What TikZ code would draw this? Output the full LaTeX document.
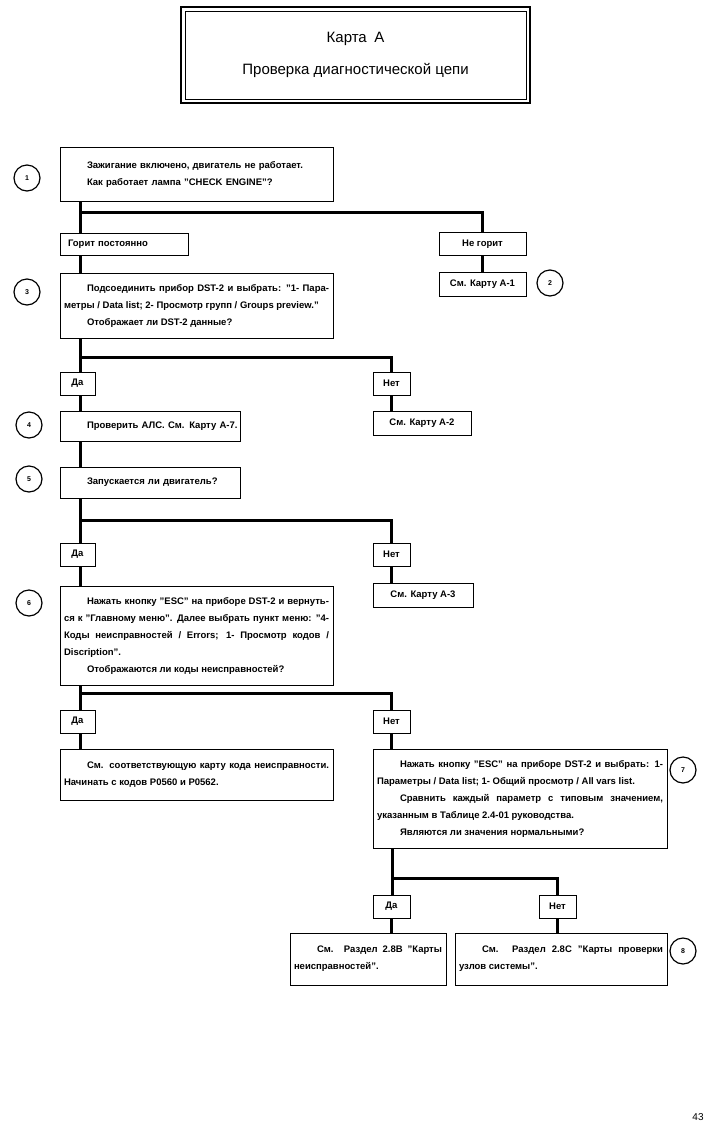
\documentclass[tikz,border=0pt]{standalone}
\usepackage{fontspec}
\setmainfont{Liberation Sans}
\usetikzlibrary{calc}
\newcommand\txtf{\fontsize{9.5}{17}\selectfont\bfseries\hyphenpenalty=10000\tolerance=10000}
\newcommand\ind{\hspace*{23pt}}
\begin{document}
\begin{tikzpicture}[x=1pt,y=-1pt,
  every node/.style={inner sep=0pt, outer sep=0pt},
  box/.style={draw, line width=0.9pt, inner xsep=4pt, inner ysep=0pt, align=justify, font=\txtf},
  lbl/.style={draw, line width=0.9pt, inner sep=0pt, align=center, font=\txtf, minimum height=23pt},
  num/.style={draw, circle, line width=1.2pt, minimum size=26pt, inner sep=0pt, font=\fontsize{7}{8}\selectfont\bfseries},
  conn/.style={line width=3pt}]
\fill[white] (0,0) rectangle (711,1128);
\useasboundingbox (0,0) rectangle (711,1128);

% title
\node[draw, line width=1.6pt, minimum width=349pt, minimum height=96pt, align=center,
      font=\fontsize{15}{32}\selectfont] (t) at (355.5,55) {Карта\enspace А\\Проверка диагностической цепи};
\draw[line width=0.6pt] ($(t.south west)+(4,-4)$) rectangle ($(t.north east)+(-4,4)$);

% step 1
\node[box, align=left, text width=265pt, minimum height=54pt] (b1) at (196.5,174)
  {\ind Зажигание включено, двигатель не работает.\par\ind Как работает лампа "CHECK ENGINE"?};
\node[num] (c1) at (27,178) {1};
\node[lbl, align=left, text width=112pt, inner xsep=8pt, minimum height=22pt] (gorit) at (124,244) {Горит постоянно};
\node[lbl, minimum width=87pt] (negorit) at (482.5,244) {Не горит};
\node[lbl, minimum width=87pt, minimum height=24pt] (a1) at (482.5,284) {См. Карту А-1};
\node[num] (c2) at (550,283) {2};

% step 3
\node[box, text width=265pt, minimum height=65pt] (b3) at (196.5,305.5)
  {\ind Подсоединить прибор DST-2 и выбрать: "1- Пара-\linebreak метры / Data list; 2- Просмотр групп / Groups preview."\par
   \ind Отображает ли DST-2 данные?};
\node[num] (c3) at (27,292) {3};
\node[lbl, minimum width=35pt] (da1) at (77.5,383.5) {Да};
\node[lbl, minimum width=37pt] (net1) at (391.5,383.5) {Нет};
\node[lbl, minimum width=98pt, minimum height=24pt] (a2) at (422,423) {См. Карту А-2};

% step 4, 5
\node[box, align=left, text width=172pt, minimum height=30pt] (b4) at (150,426) {\ind\mbox{Проверить АЛС. См. Карту А-7.}};
\node[num] (c4) at (29,425) {4};
\node[box, align=left, text width=172pt, minimum height=31pt] (b5) at (150,482.5) {\ind Запускается ли двигатель?};
\node[num] (c5) at (29,479) {5};
\node[lbl, minimum width=35pt] (da2) at (77.5,554.5) {Да};
\node[lbl, minimum width=37pt] (net2) at (391.5,554.5) {Нет};
\node[lbl, minimum width=100pt, minimum height=24pt] (a3) at (423,595) {См. Карту А-3};

% step 6
\node[box, text width=265pt, minimum height=99pt] (b6) at (196.5,636)
  {\ind Нажать кнопку "ESC" на приборе DST-2 и вернуть-\linebreak ся к "Главному меню". Далее выбрать пункт меню: "4-\linebreak Коды неисправностей / Errors; 1- Просмотр кодов /\linebreak Discription".\par
   \ind Отображаются ли коды неисправностей?};
\node[num] (c6) at (29,603) {6};
\node[lbl, minimum width=35pt] (da3) at (77.5,721.5) {Да};
\node[lbl, minimum width=37pt] (net3) at (391.5,721.5) {Нет};
\node[box, text width=265pt, minimum height=51pt] (b6a) at (196.5,774.5)
  {\ind См. соответствующую карту кода неисправности.\linebreak Начинать с кодов P0560 и P0562.};

% step 7
\node[box, text width=286pt, minimum height=99pt] (b7) at (520,799)
  {\ind Нажать кнопку "ESC" на приборе DST-2 и выбрать: 1-\linebreak Параметры / Data list; 1- Общий просмотр / All vars list.\par
   \ind Сравнить каждый параметр с типовым значением,\linebreak указанным в Таблице 2.4-01 руководства.\par
   \ind Являются ли значения нормальными?};
\node[num] (c7) at (683,770) {7};
\node[lbl, minimum width=37pt] (da4) at (391.5,906.5) {Да};
\node[lbl, minimum width=37pt] (net4) at (557.5,906.5) {Нет};
\node[box, text width=148pt, minimum height=52pt] (b8a) at (368,959)
  {\ind См. Раздел 2.8В "Карты\linebreak неисправностей".};
\node[box, text width=204pt, minimum height=52pt] (b8b) at (561,959)
  {\ind См. Раздел 2.8С "Карты проверки\linebreak узлов системы".};
\node[num] (c8) at (683,951) {8};

\node[font=\fontsize{10}{12}\selectfont] (pg) at (698,1117) {43};

% connectors
\coordinate (j1) at (80,212);
\draw[conn] (b1.south -| j1) -- (gorit.north -| j1);
\draw[conn] (j1) -| (negorit.north);
\draw[conn] (negorit.south) -- (a1.north);
\draw[conn] (gorit.south -| j1) -- (b3.north -| j1);
\coordinate (j2) at (80,357);
\draw[conn] (b3.south -| j2) -- (da1.north -| j2);
\draw[conn] (j2) -| (net1.north);
\draw[conn] (net1.south) -- (net1.south |- a2.north);
\draw[conn] (da1.south -| j2) -- (b4.north -| j2);
\draw[conn] (b4.south -| j2) -- (b5.north -| j2);
\coordinate (j3) at (80,520);
\draw[conn] (b5.south -| j3) -- (da2.north -| j3);
\draw[conn] (j3) -| (net2.north);
\draw[conn] (net2.south) -- (net2.south |- a3.north);
\draw[conn] (da2.south -| j3) -- (b6.north -| j3);
\coordinate (j4) at (80,693);
\draw[conn] (b6.south -| j4) -- (da3.north -| j4);
\draw[conn] (j4) -| (net3.north);
\draw[conn] (da3.south -| j4) -- (b6a.north -| j4);
\draw[conn] (net3.south) -- (net3.south |- b7.north);
\coordinate (j5) at (392,878);
\draw[conn] (b7.south -| j5) -- (da4.north -| j5);
\draw[conn] (j5) -| (net4.north);
\draw[conn] (da4.south) -- (da4.south |- b8a.north);
\draw[conn] (net4.south) -- (net4.south |- b8b.north);
\end{tikzpicture}
\end{document}
